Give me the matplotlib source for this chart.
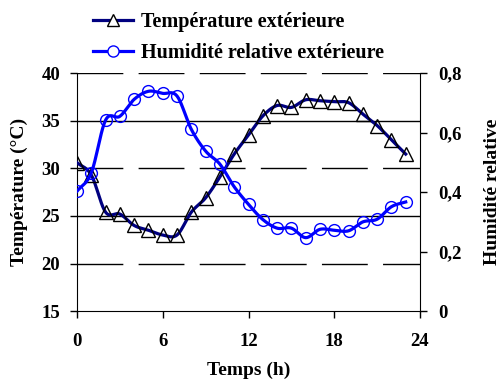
import numpy as np
import matplotlib
matplotlib.use("Agg")
import matplotlib.pyplot as plt
from matplotlib.lines import Line2D

hours = list(range(24))
temperature = [30.6, 29.3, 25.4, 25.2, 24.0, 23.5, 23.0, 23.0, 25.4, 26.9, 29.1, 31.5,
               33.5, 35.5, 36.6, 36.4, 37.2, 37.1, 37.0, 36.9, 35.7, 34.5, 33.0, 31.5]
humidity = [0.403, 0.465, 0.642, 0.655, 0.712, 0.739, 0.732, 0.723, 0.611, 0.538, 0.494, 0.418,
            0.359, 0.308, 0.279, 0.279, 0.247, 0.275, 0.272, 0.270, 0.300, 0.309, 0.351, 0.367]
x_ticks = [0, 6, 12, 18, 24]
t_ticks = [15, 20, 25, 30, 35, 40]
h_ticks = [0, 0.2, 0.4, 0.6, 0.8]
h_labels = ["0", "0,2", "0,4", "0,6", "0,8"]

plt.rcParams['font.family'] = ['Liberation Serif', 'DejaVu Serif']
plt.rcParams['font.weight'] = 'bold'
FS_TICK = 13.5
FS_LAB = 14
FS_LEG = 14.5


def smooth(x, y, n=20):
    # Catmull-Rom spline through the points (like Excel smoothed lines)
    x = np.asarray(x, float); y = np.asarray(y, float)
    px = np.concatenate([[2 * x[0] - x[1]], x, [2 * x[-1] - x[-2]]])
    py = np.concatenate([[2 * y[0] - y[1]], y, [2 * y[-1] - y[-2]]])
    xs, ys = [], []
    t = np.linspace(0, 1, n, endpoint=False)
    for i in range(1, len(px) - 2):
        p0, p1, p2, p3 = [np.array([px[j], py[j]]) for j in (i - 1, i, i + 1, i + 2)]
        for tt in t:
            pt = 0.5 * ((2 * p1) + (-p0 + p2) * tt + (2 * p0 - 5 * p1 + 4 * p2 - p3) * tt ** 2
                        + (-p0 + 3 * p1 - 3 * p2 + p3) * tt ** 3)
            xs.append(pt[0]); ys.append(pt[1])
    xs.append(x[-1]); ys.append(y[-1])
    return np.array(xs), np.array(ys)


fig = plt.figure(figsize=(5.0, 3.87), dpi=100)
ax = fig.add_axes([0.154, 0.196, 0.686, 0.615])
ax2 = ax.twinx()

ax.set_xlim(0, 24)
ax.set_ylim(15, 40)
ax2.set_ylim(0, 0.8)

# gridlines
for v in [20, 30, 40]:
    ax.axhline(v, color='black', lw=1.0, linestyle=(0, (33, 11)), zorder=0)
for v in [25, 35]:
    ax.axhline(v, color='black', lw=1.0, zorder=0)

tx, ty = smooth(hours, temperature)
ax.plot(tx, ty, color='#000080', lw=2.3, zorder=3)
ax.plot(hours, temperature, linestyle='none', marker='^', markersize=9.5,
        markerfacecolor='none', markeredgecolor='black', markeredgewidth=1.0, zorder=4)

hx, hy = smooth(hours, humidity)
ax2.plot(hx, hy, color='#0000FF', lw=2.3, zorder=3)
ax2.plot(hours, humidity, linestyle='none', marker='o', markersize=8.5,
         markerfacecolor='none', markeredgecolor='#0000FF', markeredgewidth=1.0, zorder=4)

ax.set_xticks(x_ticks)
ax.set_yticks(t_ticks)
ax2.set_yticks(h_ticks)
ax2.set_yticklabels(h_labels)

for a in (ax, ax2):
    a.spines['top'].set_visible(False)
    a.tick_params(direction='out', length=5, width=1, labelsize=FS_TICK, pad=7)
ax.spines['right'].set_visible(False)
ax2.spines['left'].set_visible(False)
ax2.spines['bottom'].set_visible(False)
ax.tick_params(axis='x', pad=11)
ax2.tick_params(axis='y', pad=8)

ax.set_xlabel('Temps (h)', fontsize=FS_LAB, fontweight='bold', labelpad=8)
ax.set_ylabel('Température (°C)', fontsize=FS_LAB, fontweight='bold', labelpad=10)
ax2.set_ylabel('Humidité relative', fontsize=FS_LAB, fontweight='bold', rotation=90, labelpad=16)

handles = [
    Line2D([], [], color='#000080', lw=2.3, marker='^', markersize=8,
           markerfacecolor='white', markeredgecolor='black', markeredgewidth=1.0),
    Line2D([], [], color='#0000FF', lw=2.3, marker='o', markersize=8,
           markerfacecolor='white', markeredgecolor='#0000FF', markeredgewidth=1.0),
]
fig.legend(handles, ['Température extérieure', 'Humidité relative extérieure'],
           loc='upper left', bbox_to_anchor=(0.15, 1.015), frameon=False,
           prop={'size': FS_LEG, 'weight': 'bold'}, handlelength=2.0, labelspacing=0.55,
           handletextpad=0.4)

fig.savefig('out.png', dpi=100)
